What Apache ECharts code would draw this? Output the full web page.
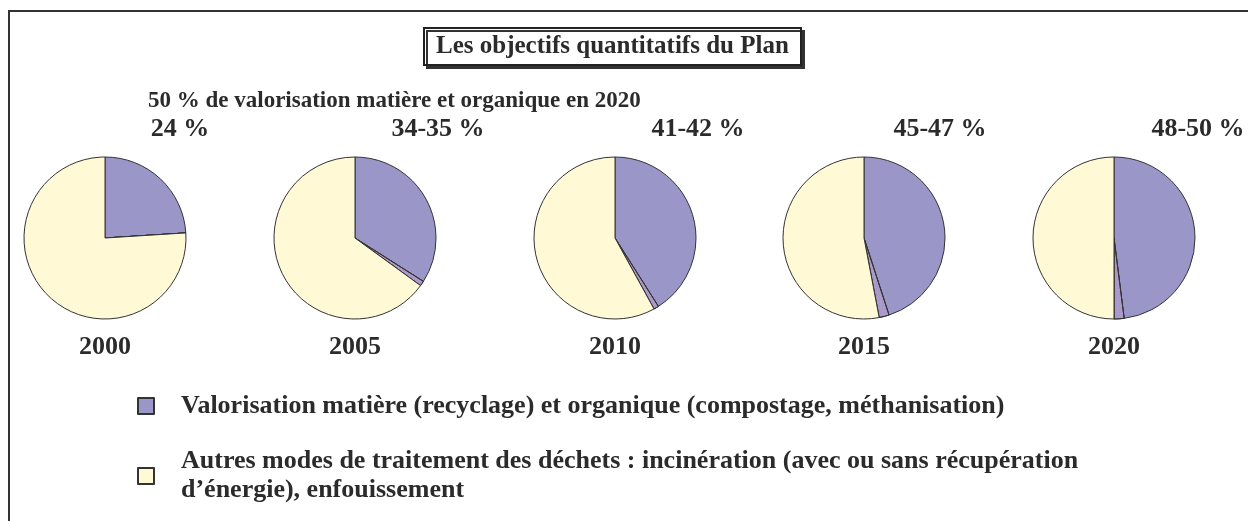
<!DOCTYPE html>
<html>
<head>
    <meta charset="utf-8">
    <title>Les objectifs quantitatifs du Plan</title>
    <script src="https://cdn.jsdelivr.net/npm/echarts@6/dist/echarts.min.js"></script>
    <style>
        html, body { margin: 0; padding: 0; background: #fff; }
    </style>
</head>
<body>
    <div id="main" style="width: 1248px; height: 521px;"></div>
    <script>
        // data
        var years = ['2000', '2005', '2010', '2015', '2020'];
        var pctLabels = ['24 %', '34-35 %', '41-42 %', '45-47 %', '48-50 %'];
        var valoLow = [24, 34, 41, 45, 48];
        var valoRange = [0, 1, 1, 2, 2];
        var autres = [76, 65, 58, 53, 50];
        var legendNames = [
            'Valorisation matière (recyclage) et organique (compostage, méthanisation)',
            'Autres modes de traitement des déchets : incinération (avec ou sans récupération\nd\u2019énergie), enfouissement'
        ];

        var PURPLE = '#9b96c8';
        var HATCH = '#a99ccb';
        var YELLOW = '#fff9d6';
        var INK = '#2b2b2b';
        var FONT = '"Liberation Serif", "Times New Roman", serif';
        var centersX = [105, 355, 615, 864, 1114];
        var pctX = [180, 438, 698, 940, 1198];
        var CY = 238;

        var chartDom = document.getElementById('main');
        var myChart = echarts.init(chartDom);

        var series = years.map(function (y, i) {
            return {
                type: 'pie',
                name: y,
                center: [centersX[i], CY],
                radius: 81,
                startAngle: 90,
                clockwise: true,
                silent: true,
                animation: false,
                label: { show: false },
                labelLine: { show: false },
                itemStyle: { borderColor: '#333', borderWidth: 1 },
                data: [
                    { name: legendNames[0], value: valoLow[i], itemStyle: { color: PURPLE } },
                    {
                        name: 'fourchette', value: valoRange[i],
                        itemStyle: {
                            color: HATCH,
                            decal: { symbol: 'rect', symbolSize: 1, dashArrayX: [1, 2], dashArrayY: [1, 2], color: 'rgba(200,120,200,0.6)' }
                        }
                    },
                    { name: legendNames[1], value: autres[i], itemStyle: { color: YELLOW } }
                ]
            };
        });

        var texts = [];
        years.forEach(function (y, i) {
            texts.push({
                type: 'text', x: pctX[i], y: 129,
                style: { text: pctLabels[i], font: 'bold 26px ' + FONT, fill: INK, align: 'center', verticalAlign: 'middle' }
            });
            texts.push({
                type: 'text', x: centersX[i], y: 347,
                style: { text: y, font: 'bold 26px ' + FONT, fill: INK, align: 'center', verticalAlign: 'middle' }
            });
        });

        var legendText = { fontFamily: FONT, fontSize: 26, fontWeight: 'bold', color: INK };

        var option = {
            backgroundColor: '#fff',
            animation: false,
            title: [
                {
                    text: 'Les objectifs quantitatifs du Plan',
                    left: 424,
                    top: 28,
                    padding: [6, 12, 6, 12],
                    backgroundColor: '#fff',
                    borderColor: '#222',
                    borderWidth: 2,
                    shadowColor: '#333',
                    shadowOffsetX: 3,
                    shadowOffsetY: 3,
                    shadowBlur: 0,
                    textStyle: { fontFamily: FONT, fontSize: 25, fontWeight: 'bold', color: INK }
                },
                {
                    text: '50 % de valorisation matière et organique en 2020',
                    left: 148,
                    top: 90,
                    padding: 0,
                    textStyle: { fontFamily: FONT, fontSize: 23, fontWeight: 'bold', color: INK }
                }
            ],
            legend: [
                {
                    data: [legendNames[0]],
                    left: 132,
                    top: 388,
                    icon: 'rect',
                    itemWidth: 16,
                    itemHeight: 16,
                    selectedMode: false,
                    itemStyle: { borderColor: '#333', borderWidth: 2 },
                    textStyle: Object.assign({ padding: [0, 0, 0, 22] }, legendText)
                },
                {
                    data: [legendNames[1]],
                    left: 132,
                    top: 442,
                    icon: 'rect',
                    itemWidth: 16,
                    itemHeight: 16,
                    selectedMode: false,
                    itemStyle: { borderColor: '#333', borderWidth: 2 },
                    textStyle: Object.assign({ lineHeight: 29, padding: [0, 0, 0, 22] }, legendText)
                }
            ],
            graphic: [
                { type: 'line', shape: { x1: 8, y1: 11, x2: 1248, y2: 11 }, style: { stroke: '#333', lineWidth: 2 } },
                { type: 'line', shape: { x1: 9, y1: 11, x2: 9, y2: 521 }, style: { stroke: '#333', lineWidth: 2 } }
            ].concat(texts),
            series: series
        };

        option && myChart.setOption(option);
    </script>
</body>
</html>
